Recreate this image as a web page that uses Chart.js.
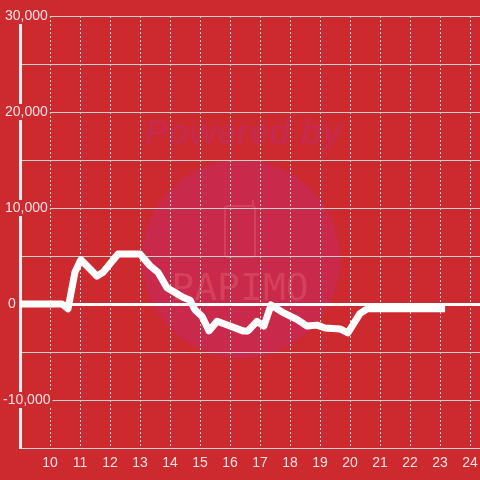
<!DOCTYPE html>
<html>
<head>
<meta charset="utf-8">
<script src="https://cdn.jsdelivr.net/npm/chart.js@4/dist/chart.umd.min.js"></script>
<style>
  body { margin: 0; background: #cc2a2f; }
  #wrap { width: 480px; height: 480px; position: relative; }
</style>
</head>
<body>
<div id="wrap"><canvas id="lChart"></canvas></div>
<script>
// Data (hour of day, value)
var hours = [9.0, 10.4, 10.6, 10.83, 11.03, 11.57, 11.77, 12.27, 13.0, 13.33, 13.6, 13.9,
             14.43, 14.67, 14.83, 15.07, 15.3, 15.57, 16.0, 16.43, 16.6, 16.9, 17.13, 17.37,
             17.77, 18.23, 18.57, 18.9, 19.17, 19.67, 19.93, 20.33, 20.57, 23.17];
var values = [0, 0, -500, 3300, 4600, 2900, 3300, 5200, 5200, 4000, 3300, 1700,
              700, 400, -600, -1300, -2800, -1800, -2300, -2800, -2800, -1800, -2300, -100,
              -900, -1600, -2300, -2200, -2500, -2600, -3000, -1000, -500, -500];
var xTicks = [9, 10, 11, 12, 13, 14, 15, 16, 17, 18, 19, 20, 21, 22, 23, 24];
var yLabels = [30000, 20000, 10000, 0, -10000];

var bg = '#cc2a2f';

window.onload = function() {

    var points = hours.map(function(h, i) { return {x: h, y: values[i]}; });

    // watermark behind the grid, y labels on top
    var watermark = {
        id: 'watermark',
        beforeDraw: function(chart) {
            var c = chart.ctx;
            c.save();
            c.fillStyle = bg;
            c.fillRect(0, 0, chart.width, chart.height);
            c.fillStyle = '#c9294a';
            c.beginPath();
            c.arc(241, 259, 99, 0, Math.PI * 2);
            c.fill();
            c.fillStyle = '#c82a4a';
            c.font = 'italic bold 35px "Liberation Sans"';
            c.textAlign = 'center';
            c.textBaseline = 'middle';
            c.fillText('Powered by', 243, 134);
            c.strokeStyle = 'rgba(235,110,120,0.35)';
            c.lineWidth = 2;
            c.beginPath();
            c.roundRect(225, 206, 30, 51, 3);
            c.moveTo(253, 206);
            c.lineTo(253, 200);
            c.stroke();
            c.fillStyle = 'rgba(235,110,120,0.35)';
            c.font = '38px "DejaVu Sans Mono"';
            c.fillText('PAPIMO', 240, 290);
            c.restore();
        },
        afterDraw: function(chart) {
            var c = chart.ctx;
            var ys = chart.scales.y;
            c.save();
            c.font = '14px "Liberation Sans"';
            c.textAlign = 'left';
            c.textBaseline = 'middle';
            yLabels.forEach(function(v) {
                var txt = v.toLocaleString('en-US');
                var py = ys.getPixelForValue(v);
                var w = c.measureText(txt).width;
                var x0 = v < 0 ? 3 : (v === 0 ? 8 : 5);
                c.fillStyle = bg;
                c.fillRect(x0 - 1, py - 8, w + 3, 16);
                c.fillStyle = 'rgba(255,235,235,0.95)';
                c.fillText(txt, x0, py);
            });
            c.restore();
        }
    };

    var ctx = document.getElementById('lChart').getContext('2d');
    var lChart = new Chart(ctx, {
        type: 'line',
        data: {
            datasets: [{
                data: points,
                borderColor: '#ffffff',
                borderWidth: 7,
                pointRadius: 0,
                tension: 0,
                borderJoinStyle: 'round',
                fill: false
            }]
        },
        options: {
            responsive: true,
            maintainAspectRatio: false,
            animation: false,
            layout: { padding: { top: 16, right: 0, left: 0, bottom: 0 } },
            plugins: {
                legend: { display: false },
                tooltip: { enabled: false }
            },
            scales: {
                x: {
                    type: 'linear',
                    min: 9,
                    max: 24 + 1 / 3,
                    afterBuildTicks: function(scale) {
                        scale.ticks = xTicks.map(function(v) { return {value: v}; });
                    },
                    afterFit: function(scale) {
                        scale.height = 32;
                        scale.paddingLeft = 0;
                        scale.paddingRight = 0;
                    },
                    ticks: {
                        padding: 7,
                        maxRotation: 0,
                        autoSkip: false,
                        color: 'rgba(255,235,235,0.95)',
                        font: { family: 'Liberation Sans', size: 14 },
                        callback: function(value) {
                            return value === 9 ? '' : value;
                        }
                    },
                    grid: {
                        color: '#d8d8d8',
                        lineWidth: 1,
                        drawTicks: false
                    },
                    border: { color: '#d0d0d0', width: 1, dash: [2, 2] }
                },
                y: {
                    min: -15000,
                    max: 30000,
                    afterFit: function(scale) { scale.width = 20; },
                    ticks: { stepSize: 5000, display: false },
                    grid: {
                        drawTicks: false,
                        color: function(context) {
                            return context.tick && context.tick.value === 0 ? '#ffffff' : '#cfcfcf';
                        },
                        lineWidth: function(context) {
                            return context.tick && context.tick.value === 0 ? 3 : 1;
                        }
                    },
                    border: { color: '#f4f0f0', width: 3 }
                }
            }
        },
        plugins: [watermark]
    });
};
</script>
</body>
</html>
